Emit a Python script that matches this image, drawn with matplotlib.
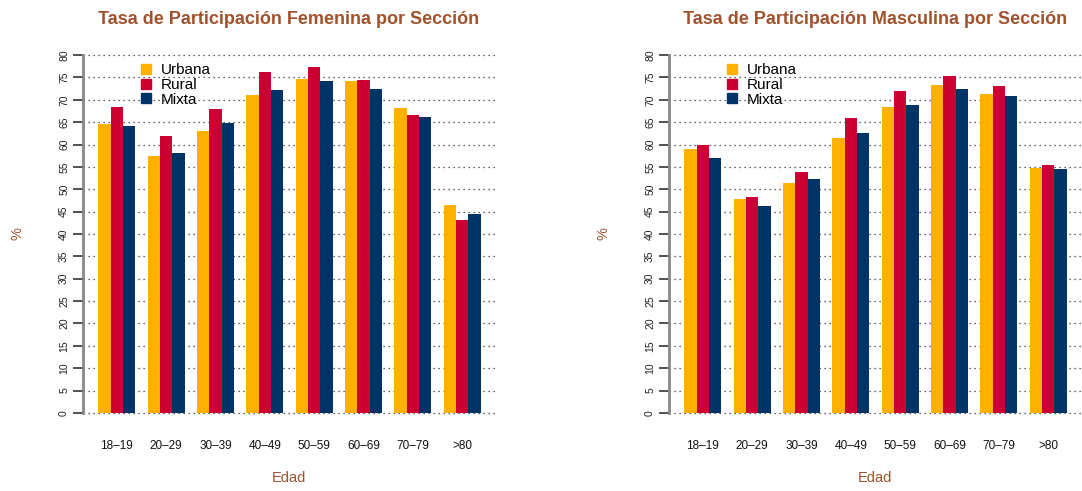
import matplotlib
matplotlib.use("Agg")
import matplotlib.pyplot as plt
from matplotlib.lines import Line2D
import numpy as np

categories = ["18–19", "20–29", "30–39", "40–49", "50–59", "60–69", "70–79", ">80"]
series_names = ["Urbana", "Rural", "Mixta"]
fem_urbana = [64.6, 57.4, 63.1, 71.0, 74.6, 74.2, 68.2, 46.4]
fem_rural = [68.4, 61.9, 68.0, 76.2, 77.4, 74.4, 66.5, 43.1]
fem_mixta = [64.1, 58.1, 64.7, 72.2, 74.3, 72.5, 66.2, 44.5]
mas_urbana = [59.1, 47.9, 51.4, 61.5, 68.4, 73.4, 71.3, 54.8]
mas_rural = [59.9, 48.2, 53.8, 65.9, 72.0, 75.4, 73.1, 55.4]
mas_mixta = [56.9, 46.3, 52.2, 62.6, 68.8, 72.4, 70.9, 54.5]
titles = ["Tasa de Participación Femenina por Sección",
          "Tasa de Participación Masculina por Sección"]
yticks = list(range(0, 81, 5))

colors = ["#FFB000", "#CC0033", "#003366"]
accent = "#A0522D"

W, H = 1082, 491
fig = plt.figure(figsize=(W / 100, H / 100), dpi=100)

def px_axes(left_px):
    top = 40.7
    bottom = 427.3
    width = 413.0
    return [left_px / W, 1 - bottom / H, width / W, (bottom - top) / H]

panels = [
    (83, [fem_urbana, fem_rural, fem_mixta], titles[0], 289),
    (669, [mas_urbana, mas_rural, mas_mixta], titles[1], 875),
]

for left_px, data, title, cx in panels:
    ax = fig.add_axes(px_axes(left_px))
    n = len(categories)
    group_start = np.arange(n) * 4 + 1  # R barplot beside=TRUE layout
    for k, vals in enumerate(data):
        ax.bar(group_start + k + 0.5, vals, width=1.0, color=colors[k],
               edgecolor="none", zorder=3)
    ax.set_xlim(-0.24, 33.24)
    ax.set_ylim(-3.2, 83.2)
    ax.set_yticks(yticks)
    ax.set_yticklabels([str(v) for v in yticks], rotation=90, va="center",
                       fontsize=7.5, color="#222222",
                       family=["Liberation Sans", "DejaVu Sans"])
    ax.set_xticks(group_start + 1.5)
    ax.set_xticklabels(categories, fontsize=8.5, color="#111111",
                       family=["Liberation Sans Narrow", "Liberation Sans", "DejaVu Sans"])
    ax.tick_params(axis="x", length=0, pad=9)
    ax.tick_params(axis="y", length=7, width=1.2, color="#333333", pad=3)
    for s in ["top", "right", "bottom"]:
        ax.spines[s].set_visible(False)
    ax.spines["left"].set_bounds(0, 80)
    ax.spines["left"].set_color("#888888")
    ax.spines["left"].set_linewidth(2)
    ax.yaxis.grid(True, linestyle=(0, (1, 3)), color="#333333", linewidth=0.9, zorder=0)
    ax.set_axisbelow(True)

    handles = [Line2D([], [], marker="s", linestyle="none", markersize=6.5,
                      markerfacecolor=c, markeredgecolor=c) for c in colors]
    leg = ax.legend(handles, series_names, loc="upper left",
                    bbox_to_anchor=((left_px + 58) / W, 1 - 63 / H),
                    bbox_transform=fig.transFigure, frameon=False,
                    handlelength=0.6, handletextpad=0.7,
                    labelspacing=0.06, borderpad=0, borderaxespad=0,
                    prop={"family": ["Liberation Sans", "DejaVu Sans"], "size": 11})

    fig.text(cx / W, 1 - 20 / H, title, ha="center", va="center",
             fontsize=13, fontweight="bold", color=accent,
             family=["Liberation Sans", "DejaVu Sans"])
    fig.text(cx / W, 1 - 478 / H, "Edad", ha="center", va="center",
             fontsize=10.5, color=accent, family=["Liberation Sans", "DejaVu Sans"])
    fig.text((left_px - 66) / W, 1 - 234 / H, "%", ha="center", va="center",
             rotation=90, fontsize=10.5, color=accent,
             family=["Liberation Sans", "DejaVu Sans"])

fig.savefig("out.png", dpi=100)
